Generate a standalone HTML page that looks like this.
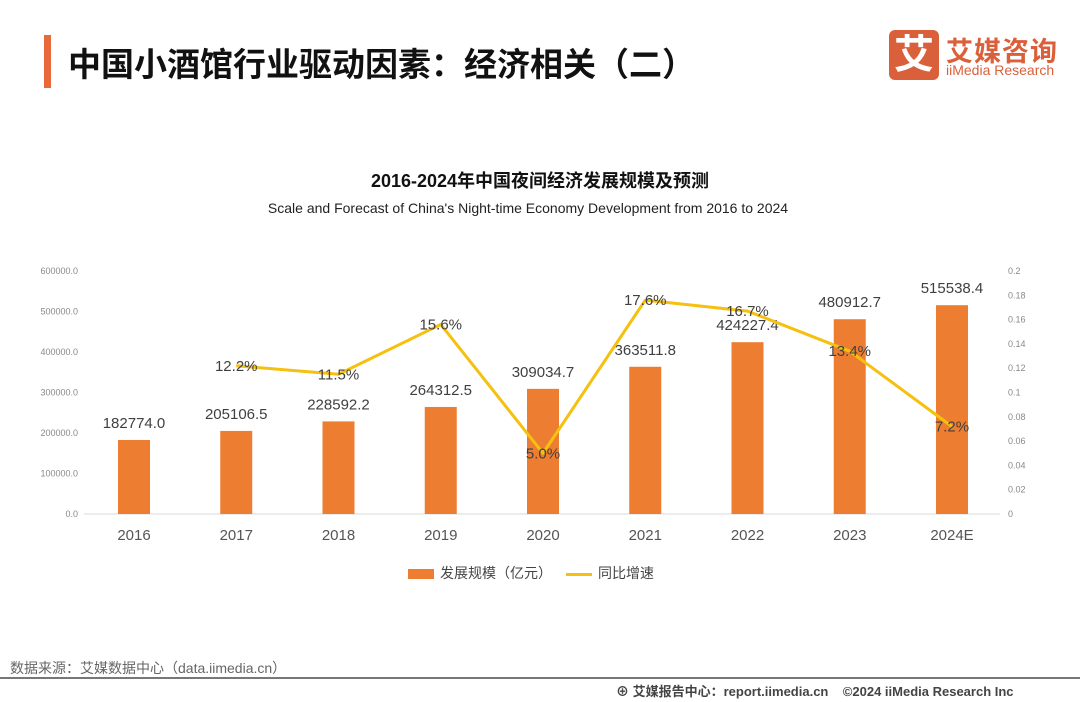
<!DOCTYPE html>
<html><head><meta charset="utf-8"><style>
body{margin:0;width:1080px;height:702px;background:#fff;font-family:"Liberation Sans","Noto Sans CJK SC",sans-serif;overflow:hidden;position:relative}
.a{position:absolute;white-space:nowrap}
</style></head><body>
<div class="a" style="left:44px;top:35px;width:7px;height:53px;background:#e8693a"></div>
<div class="a" style="left:68px;top:38px;font-size:33px;font-weight:bold;color:#111">中国小酒馆行业驱动因素：经济相关（二）</div>
<div class="a" style="left:889px;top:30px;width:50px;height:50px;background:#d9603b;border-radius:6px;color:#fff;font-size:40px;font-weight:bold;text-align:center;line-height:50px">艾</div>
<div class="a" style="left:946px;top:30px;font-size:27px;font-weight:bold;color:#d9603b;letter-spacing:1px">艾媒咨询</div>
<div class="a" style="left:946px;top:62px;font-size:14px;color:#d9603b">iiMedia Research</div>
<div class="a" style="left:0;width:1080px;text-align:center;top:167px;font-size:18px;font-weight:bold;color:#111">2016-2024年中国夜间经济发展规模及预测</div>
<div class="a" style="left:0;width:1056px;text-align:center;top:200px;font-size:14px;color:#222">Scale and Forecast of China's Night-time Economy Development from 2016 to 2024</div>
<svg class="a" style="left:0;top:0" width="1080" height="702" id="chart"></svg>
<div class="a" style="left:408px;top:563px;font-size:14px;color:#444"><span style="display:inline-block;width:26px;height:10px;background:#ed7d31;vertical-align:middle;margin-right:6px"></span>发展规模（亿元）</div>
<div class="a" style="left:566px;top:563px;font-size:14px;color:#444"><span style="display:inline-block;width:26px;height:3px;background:#f5c00f;vertical-align:middle;margin-right:6px"></span>同比增速</div>
<div class="a" style="left:10px;top:658px;font-size:14px;color:#666">数据来源：艾媒数据中心（data.iimedia.cn）</div>
<div class="a" style="left:0;top:677px;width:1080px;height:2px;background:#777"></div>
<div class="a" style="left:616px;top:681px;font-size:13px;color:#444;font-weight:bold">⊕ 艾媒报告中心：report.iimedia.cn &nbsp;&nbsp; ©2024 iiMedia Research Inc</div>
<script>
const categories=["2016","2017","2018","2019","2020","2021","2022","2023","2024E"];
const scaleValues=[182774.0,205106.5,228592.2,264312.5,309034.7,363511.8,424227.4,480912.7,515538.4];
const growthValues=[null,0.122,0.115,0.156,0.050,0.176,0.167,0.134,0.072];
const growthLabels=["","12.2%","11.5%","15.6%","5.0%","17.6%","16.7%","13.4%","7.2%"];
const leftTicks=[0,100000,200000,300000,400000,500000,600000];
const rightTicks=[0,0.02,0.04,0.06,0.08,0.1,0.12,0.14,0.16,0.18,0.2];
const NS="http://www.w3.org/2000/svg",svg=document.getElementById('chart');
const y0=514,y1=271;
const x=i=>134+i*102.25;
const yL=v=>y0-(v/600000)*(y0-y1);
const yR=v=>y0-(v/0.2)*(y0-y1);
function mk(t,a,txt){const e=document.createElementNS(NS,t);for(const k in a)e.setAttribute(k,a[k]);if(txt!=null)e.textContent=txt;svg.appendChild(e);return e;}
let e=mk('line',{x1:84,x2:1000,y1:y0,y2:y0,stroke:'#d9d9d9'});


leftTicks.forEach(v=>{const t=mk('text',{x:78,y:yL(v)+3,'text-anchor':'end','font-size':9,fill:'#888'},v.toFixed(1));

});
rightTicks.forEach(v=>{const t=mk('text',{x:1008,y:yR(v)+3,'font-size':9,fill:'#888'},String(+v.toFixed(2)));

});
categories.forEach((c,i)=>{
const b=mk('rect',{x:x(i)-16,y:yL(scaleValues[i]),width:32,height:y0-yL(scaleValues[i]),fill:'#ed7d31'});


const l=mk('text',{x:x(i),y:yL(scaleValues[i])-12,'text-anchor':'middle','font-size':15,fill:'#404040'},scaleValues[i].toFixed(1));


const c2=mk('text',{x:x(i),y:540,'text-anchor':'middle','font-size':15,fill:'#555'},c);

});
let pts=[];growthValues.forEach((v,i)=>{if(v!=null)pts.push(x(i)+','+yR(v));});
const pl=mk('polyline',{points:pts.join(' '),fill:'none',stroke:'#f5c00f','stroke-width':3,'stroke-linejoin':'round'});


growthValues.forEach((v,i)=>{if(v==null)return;
const t=mk('text',{x:x(i),y:yR(v)+5,'text-anchor':'middle','font-size':15,fill:'#404040'},growthLabels[i]);

});
</script>
</body></html>
